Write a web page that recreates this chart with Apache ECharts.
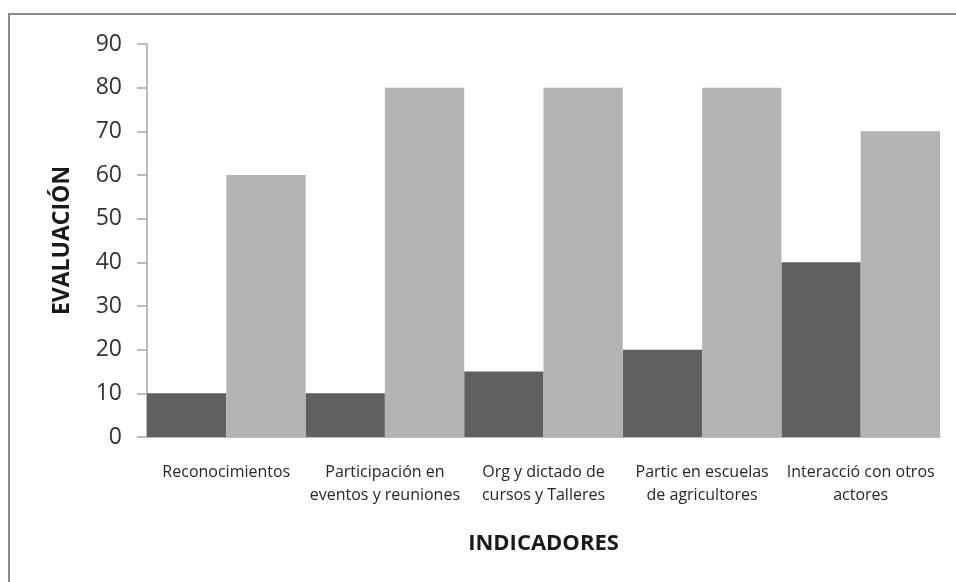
<!DOCTYPE html>
<html>
<head>
<meta charset="utf-8">
<script src="https://cdn.jsdelivr.net/npm/echarts@6/dist/echarts.min.js"></script>
<style>
  html, body { margin: 0; padding: 0; background: #fff; }
  #chart { width: 956px; height: 582px; }
</style>
</head>
<body>
<div id="chart"></div>
<script>
// Indicator categories (two-line labels)
var categories = [
  'Reconocimientos',
  'Participación en\neventos y reuniones',
  'Org y dictado de\ncursos y Talleres',
  'Partic en escuelas\nde agricultores',
  'Interacció con otros\nactores'
];
// Evaluation values per indicator
var serieOscura = [10, 10, 15, 20, 40];
var serieClara = [60, 80, 80, 80, 70];
// Value axis range
var yMin = 0, yMax = 90, yStep = 10;

var font = '"Open Sans", "Noto Sans", sans-serif';
var chart = echarts.init(document.getElementById('chart'), null, { renderer: 'canvas' });

chart.setOption({
  animation: false,
  backgroundColor: '#ffffff',
  graphic: [{
    type: 'rect',
    shape: { x: 9, y: 14, width: 980, height: 620 },
    style: { fill: 'none', stroke: '#8a8a8a', lineWidth: 2 },
    silent: true
  }],
  grid: { left: 147, right: 16, top: 44, bottom: 145 },
  xAxis: {
    type: 'category',
    data: categories,
    name: 'INDICADORES',
    nameLocation: 'middle',
    nameGap: 96,
    nameTextStyle: { fontFamily: font, fontSize: 22, fontWeight: 'bold', color: '#1a1a1a' },
    axisLine: { show: true, lineStyle: { color: '#a6a6a6', width: 1.5 } },
    axisTick: { show: false },
    axisLabel: {
      interval: 0,
      margin: 24,
      fontFamily: font,
      fontSize: 16,
      lineHeight: 23,
      color: '#262626',
      align: 'center'
    },
    splitLine: { show: false }
  },
  yAxis: {
    type: 'value',
    min: yMin,
    max: yMax,
    interval: yStep,
    name: 'EVALUACIÓN',
    nameLocation: 'middle',
    nameGap: 73,
    nameRotate: 90,
    nameTextStyle: { fontFamily: font, fontSize: 23, fontWeight: 'bold', color: '#1a1a1a' },
    axisLine: { show: true, lineStyle: { color: '#a6a6a6', width: 1.5 } },
    axisTick: { show: true, length: 10, lineStyle: { color: '#a6a6a6', width: 1.5 } },
    axisLabel: { margin: 25, fontFamily: font, fontSize: 23, color: '#333333' },
    splitLine: { show: false }
  },
  series: [{
    type: 'bar',
    data: serieOscura,
    barGap: '0%',
    barCategoryGap: '0%',
    itemStyle: { color: '#606060' }
  }, {
    type: 'bar',
    data: serieClara,
    barGap: '0%',
    barCategoryGap: '0%',
    itemStyle: { color: '#b3b3b3' }
  }]
});
</script>
</body>
</html>
